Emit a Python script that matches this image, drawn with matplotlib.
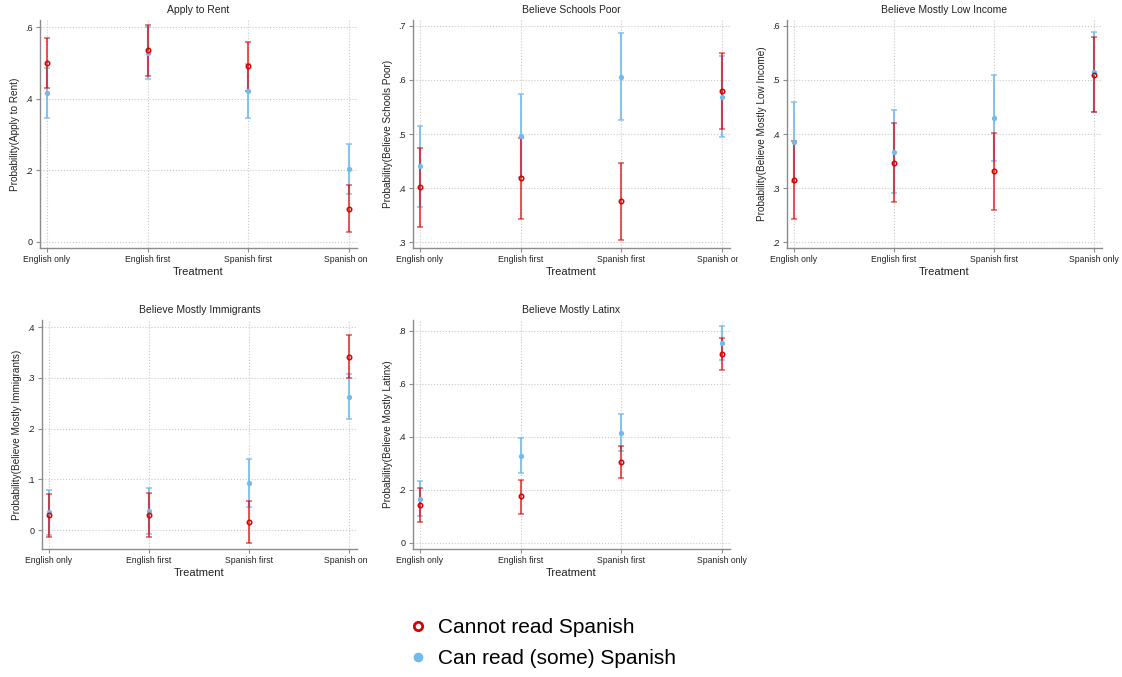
import numpy as np
import matplotlib
matplotlib.use("Agg")
import matplotlib.pyplot as plt
from matplotlib.lines import Line2D
from matplotlib.transforms import Bbox

plt.rcParams['font.family'] = ['Liberation Sans', 'DejaVu Sans']

# Categorías y etiquetas
treatments = ["English only", "English first", "Spanish first", "Spanish only"]
titles = ["Apply to Rent", "Believe Schools Poor", "Believe Mostly Low Income",
          "Believe Mostly Immigrants", "Believe Mostly Latinx"]

# Cannot read Spanish: estimación, IC inferior, IC superior
no_est = [[0.500, 0.535, 0.491, 0.093],
          [0.402, 0.418, 0.376, 0.579],
          [0.315, 0.346, 0.331, 0.510],
          [0.029, 0.029, 0.016, 0.342],
          [0.142, 0.176, 0.306, 0.712]]
no_lo = [[0.430, 0.464, 0.423, 0.028],
         [0.328, 0.342, 0.304, 0.509],
         [0.243, 0.274, 0.260, 0.441],
         [-0.014, -0.014, -0.026, 0.300],
         [0.078, 0.109, 0.243, 0.650]]
no_hi = [[0.569, 0.605, 0.558, 0.160],
         [0.475, 0.493, 0.447, 0.649],
         [0.387, 0.420, 0.402, 0.580],
         [0.071, 0.073, 0.058, 0.384],
         [0.207, 0.238, 0.366, 0.772]]

# Can read (some) Spanish
yes_est = [[0.416, 0.527, 0.422, 0.204],
           [0.440, 0.497, 0.605, 0.569],
           [0.386, 0.367, 0.430, 0.515],
           [0.035, 0.038, 0.092, 0.263],
           [0.166, 0.329, 0.414, 0.753]]
yes_lo = [[0.346, 0.456, 0.346, 0.134],
          [0.365, 0.420, 0.525, 0.494],
          [0.312, 0.290, 0.350, 0.441],
          [-0.009, -0.007, 0.045, 0.220],
          [0.101, 0.262, 0.345, 0.688]]
yes_hi = [[0.486, 0.600, 0.498, 0.274],
          [0.515, 0.574, 0.687, 0.644],
          [0.460, 0.444, 0.510, 0.588],
          [0.080, 0.083, 0.140, 0.308],
          [0.233, 0.395, 0.486, 0.819]]

yticks = [[0, 0.2, 0.4, 0.6],
          [0.3, 0.4, 0.5, 0.6, 0.7],
          [0.2, 0.3, 0.4, 0.5, 0.6],
          [0, 0.1, 0.2, 0.3, 0.4],
          [0, 0.2, 0.4, 0.6, 0.8]]
ylims = [(-0.017, 0.62), (0.289, 0.711), (0.189, 0.611), (-0.037, 0.414), (-0.023, 0.84)]

RED = (0.86, 0.0, 0.0)
BLUE = (0.45, 0.73, 0.92)
GRAY = "#8c8c8c"

W, H = 1122, 677
fig = plt.figure(figsize=(W / 100, H / 100), dpi=100)

# cajas de los paneles en píxeles: izquierda, derecha, arriba, abajo
boxes = [(40, 357, 20, 248), (413, 730, 20, 248), (787, 1102, 20, 248),
         (42, 357, 320, 549), (413, 730, 320, 549)]
# límite derecho para recortar etiquetas (como en el original)
clips = [367, 738, None, 367, None]


def fmt(v):
    if abs(v) < 1e-9:
        return "0"
    return ("%.1f" % v).lstrip("0")


x = np.arange(len(treatments))
for k in range(5):
    l, r, t, b = boxes[k]
    ax = fig.add_axes([l / W, 1 - b / H, (r - l) / W, (b - t) / H])
    for s in ["top", "right"]:
        ax.spines[s].set_visible(False)
    for s in ["left", "bottom"]:
        ax.spines[s].set_color(GRAY)
        ax.spines[s].set_linewidth(1.0)
    ax.grid(True, linestyle=":", color="#c8c8c8", linewidth=0.8)
    ax.set_axisbelow(True)

    yest, ylo, yhi = np.array(yes_est[k]), np.array(yes_lo[k]), np.array(yes_hi[k])
    nest, nlo, nhi = np.array(no_est[k]), np.array(no_lo[k]), np.array(no_hi[k])

    ax.errorbar(x, yest, yerr=[yest - ylo, yhi - yest], fmt="none", ecolor=BLUE,
                elinewidth=1.5, capsize=2.5, capthick=1.1, alpha=0.85, zorder=3)
    ax.errorbar(x, nest, yerr=[nest - nlo, nhi - nest], fmt="none", ecolor=RED,
                elinewidth=1.5, capsize=2.5, capthick=1.1, alpha=0.65, zorder=3)
    ax.plot(x, yest, "o", color=BLUE, markersize=3.8, markeredgewidth=0, zorder=4)
    ax.plot(x, nest, "o", markerfacecolor="none", markeredgecolor=RED,
            markersize=3.2, markeredgewidth=1.1, zorder=5)

    ax.set_xlim(-0.07, 3.08)
    ax.set_ylim(*ylims[k])
    ax.set_xticks(x)
    ax.set_xticklabels(treatments, fontsize=6.2, color="#222222")
    ax.set_yticks(yticks[k])
    ax.set_yticklabels([fmt(v) for v in yticks[k]], fontsize=6.5, color="#222222")
    ax.tick_params(axis="both", color=GRAY, length=3, width=0.8, pad=2)
    ax.set_title(titles[k], fontsize=7.5, color="#222222", pad=5)
    ax.set_xlabel("Treatment", fontsize=8, color="#222222", labelpad=2)
    ax.set_ylabel("Probability(%s)" % titles[k], fontsize=7.2, color="#222222", labelpad=4)

    if clips[k] is not None:
        cb = Bbox([[0, 0], [clips[k], H]])
        for lab in ax.get_xticklabels():
            lab.set_clip_box(cb)
            lab.set_clip_on(True)

handles = [Line2D([], [], linestyle="none", marker="o", markerfacecolor="white",
                  markeredgecolor=RED, markersize=6, markeredgewidth=2),
           Line2D([], [], linestyle="none", marker="o", color=BLUE, markersize=7,
                  markeredgewidth=0)]
fig.legend(handles, ["Cannot read Spanish", "Can read (some) Spanish"],
           loc="center", bbox_to_anchor=(0.482, 0.05), frameon=False,
           fontsize=15, handletextpad=0.4, labelspacing=0.6, handlelength=1.2)

fig.savefig("out.png", dpi=100, facecolor="white")
